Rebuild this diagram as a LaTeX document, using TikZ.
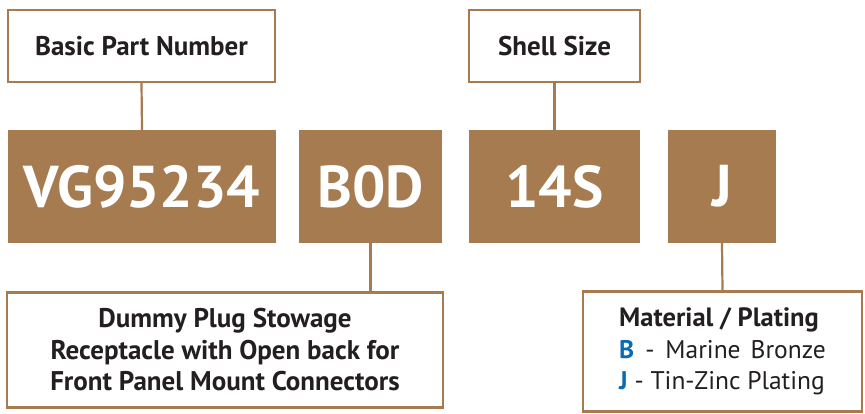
\documentclass[tikz,border=0pt]{standalone}
\usepackage{fontspec}
\setmainfont{PT Sans}
\definecolor{brn}{HTML}{A67B50}
\definecolor{txt}{HTML}{231F20}
\definecolor{blu}{HTML}{0A6AB4}
\tikzset{
  lbl/.style={draw=brn,line width=2.2pt,fill=white,text=txt,font=\bfseries\fontsize{27}{31.5}\selectfont,align=center,inner sep=0pt},
  code/.style={fill=brn,text=white,font=\bfseries\fontsize{59}{60}\selectfont,inner sep=0pt},
  conn/.style={draw=brn,line width=2.2pt}
}
\begin{document}
\begin{tikzpicture}[x=1pt,y=-1pt]
\useasboundingbox (0,0) rectangle (865,413);
% code boxes
\node[code,minimum width=268,minimum height=113] (vg) at (142,186.5) {VG95234};
\node[code,minimum width=143,minimum height=113] (bod) at (370.5,186.5) {B0D};
\node[code,minimum width=171,minimum height=113] (s14) at (554.5,186.5) {14S};
\node[code,minimum width=108,minimum height=113] (j) at (722,186.5) {J};
% top labels
\node[lbl,minimum width=267,minimum height=72] (bpn) at (141.5,46) {Basic Part Number};
\node[lbl,minimum width=171,minimum height=72] (ss) at (554.5,46) {Shell Size};
% bottom labels
\node[lbl,minimum width=436,minimum height=115] (dp) at (225,350) {Dummy Plug Stowage\\Receptacle with Open back for\\Front Panel Mount Connectors};
\node[lbl,minimum width=279,minimum height=120,align=left,font=\fontsize{25.5}{31.5}\selectfont] (mp) at (722.5,351.5) {\textbf{\fontsize{26.5}{31.5}\selectfont Material / Plating}\\{\color{blu}\textbf{B}}\hspace{11pt}-\hspace{11pt}Marine\hspace{10pt}Bronze\\{\color{blu}\textbf{J}} - Tin-Zinc Plating};
% connectors
\draw[conn] (bpn.south) -- (vg.north);
\draw[conn] (ss.south) -- (s14.north);
\draw[conn] (bod.south) -- (bod.south |- dp.north);
\draw[conn] (j.south) -- (mp.north);
\end{tikzpicture}
\end{document}
